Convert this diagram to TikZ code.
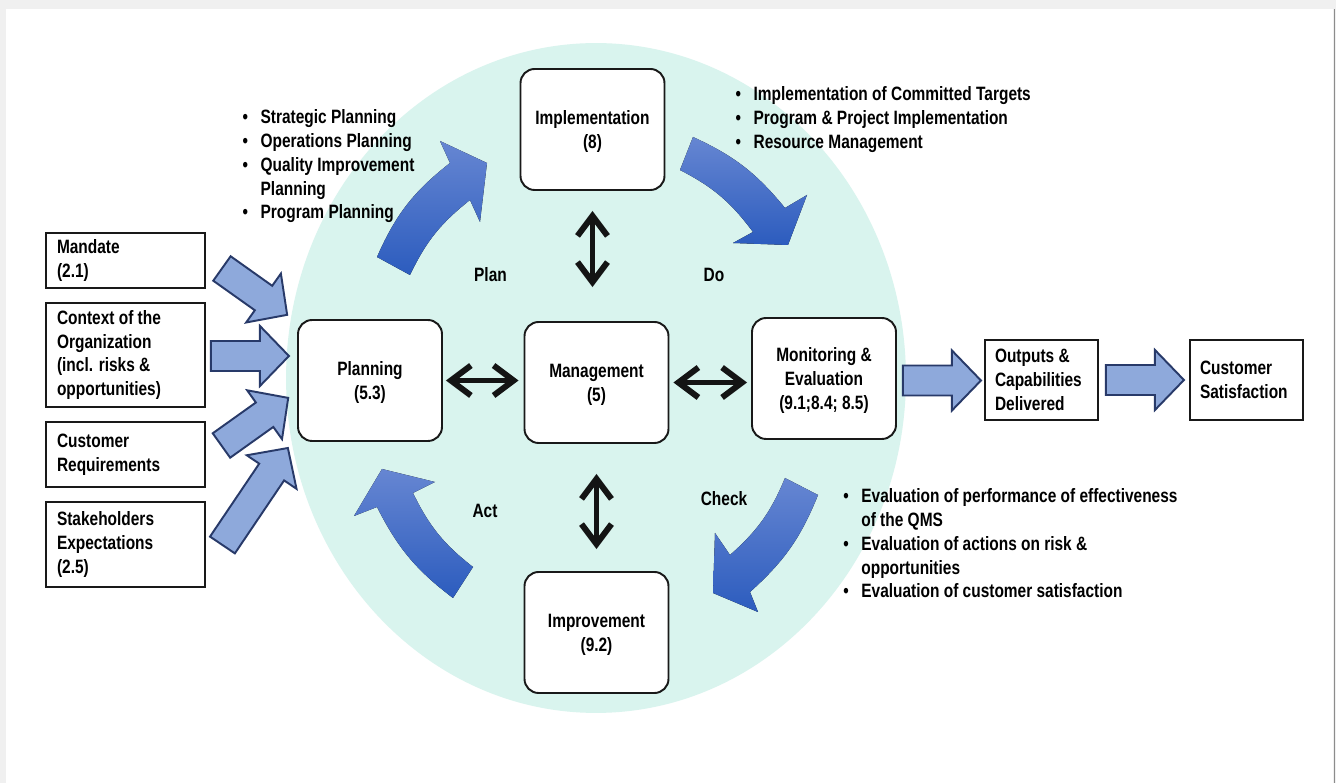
\documentclass[tikz,border=0pt]{standalone}
\usepackage{fontspec}
\setmainfont{Liberation Sans}[FakeStretch=0.80]
\usepackage{tikz}
\usepackage{xcolor}
\usetikzlibrary{arrows.meta,calc}

\definecolor{cyclebg}{RGB}{217,244,238}
\definecolor{arrowtop}{RGB}{102,134,210}
\definecolor{arrowbot}{RGB}{44,92,190}
\definecolor{feedfill}{RGB}{142,169,219}
\definecolor{feedline}{RGB}{40,58,105}
\definecolor{pagegray}{RGB}{240,240,240}

\newcommand{\lbl}{\fontsize{11}{13.6}\selectfont\bfseries}
\newcommand{\bul}{\makebox[0.36cm][l]{\textbullet}}
% block arrow: tail point, angle, length
\newcommand{\feedarrow}[3]{%
  \draw[feed, shift={(#1)}, rotate=#2] (0,-15) -- (#3-29,-15) -- (#3-29,-30) -- (#3,0) -- (#3-29,30) -- (#3-29,15) -- (0,15) -- cycle;}

\begin{document}
\begin{tikzpicture}[x=0.02cm, y=-0.02cm,
    stage/.style={rectangle, draw=black!90, line width=1.1pt, rounded corners=8pt, fill=white, minimum width=2.88cm, minimum height=2.42cm, align=center, text depth=0pt, font=\lbl},
    inbox/.style={rectangle, draw=black!90, line width=1.1pt, fill=white, text width=2.74cm, inner xsep=0.22cm, inner ysep=0pt, align=flush left, font=\lbl},
    note/.style={anchor=north west, inner sep=0pt, align=left, font=\lbl},
    phase/.style={font=\lbl},
    cyc/.style={top color=arrowtop, bottom color=arrowbot},
    feed/.style={fill=feedfill, draw=feedline, line width=1.1pt, line join=miter},
    link/.style={{Straight Barb[length=0.4cm,width=0.6cm]}-{Straight Barb[length=0.4cm,width=0.6cm]}, line width=3.4pt, draw=black!92}
]
\useasboundingbox (0,0) rectangle (1336,783);
\fill[pagegray] (0,0) rectangle (1336,783);
\fill[white] (6,9) rectangle (1333,783);
\draw[black!45, line width=1pt] (1334.5,9) -- (1334.5,783);

% PDCA circle
\fill[cyclebg] (596,378) ellipse [x radius=6.2cm, y radius=6.7cm];

% curved cycle arrows
\fill[cyc] (377,257) to[bend left=14] (450,163) -- (440,141) -- (487,163) -- (480,222) -- (470,200) to[bend right=13] (410,275) -- cycle;
\fill[cyc] (680,170) -- (693,137) to[bend left=13] (785,208) -- (807,195) -- (788,245) -- (733,243) -- (753,232) to[bend right=13] (680,170) -- cycle;
\fill[cyc] (785,478) -- (818,495) to[bend left=13] (750,592) -- (758,612) -- (713,593) -- (715,533) -- (730,555) to[bend right=13] (785,478) -- cycle;
\fill[cyc] (453,598) -- (473,567) to[bend left=13] (413,493) -- (435,482) -- (382,469) -- (354,516) -- (377,507) to[bend right=13] (453,598) -- cycle;

% stages
\node[stage] (impl) at (592.5,129.5) {Implementation\\(8)};
\node[stage] (plan) at (370,380.5) {Planning\\(5.3)};
\node[stage] (mgmt) at (596.5,382.5) {Management\\(5)};
\node[stage] (mon) at (824,378.5) {Monitoring \&\\Evaluation\\(9.1;8.4; 8.5)};
\node[stage] (impr) at (596.5,632.5) {Improvement\\(9.2)};

% inputs and outputs
\node[inbox, minimum height=1.1cm] (mandate) at (125.5,260.5) {Mandate\\(2.1)};
\node[inbox, minimum height=2.08cm] (context) at (125.5,355) {Context of the\\Organization\\(incl. risks \&\\opportunities)};
\node[inbox, minimum height=1.3cm] (custreq) at (125.5,454.5) {Customer\\Requirements};
\node[inbox, minimum height=1.7cm] (stake) at (125.5,544.5) {Stakeholders\\Expectations\\(2.5)};
\node[inbox, text width=1.86cm, inner xsep=0.2cm, minimum height=1.6cm] (outputs) at (1041.5,380) {Outputs \&\\Capabilities\\Delivered};
\node[inbox, text width=1.86cm, inner xsep=0.2cm, minimum height=1.6cm] (custsat) at (1246.5,380) {Customer\\Satisfaction};

% phase labels
\node[phase] (plantxt) at (490.5,274.5) {Plan};
\node[phase] (dotxt) at (714,274.5) {Do};
\node[phase] (acttxt) at (485,511) {Act};
\node[phase] (checktxt) at (724,499) {Check};

% bullet notes
\node[note] (plannote) at (242.3,109) {\bul Strategic Planning\\\bul Operations Planning\\\bul Quality Improvement\\\hspace*{0.36cm}Planning\\\bul Program Planning};
\node[note] (donote) at (735.3,86.5) {\bul Implementation of Committed Targets\\\bul Program \& Project Implementation\\\bul Resource Management};
\node[note] (checknote) at (843,488) {\bul Evaluation of performance of effectiveness\\\hspace*{0.36cm}of the QMS\\\bul Evaluation of actions on risk \&\\\hspace*{0.36cm}opportunities\\\bul Evaluation of customer satisfaction};

% links to management
\draw[link, shorten <=0.4cm, shorten >=0.68cm] (impl.south) -- (impl.south |- mgmt.north);
\draw[link, shorten <=0.06cm, shorten >=0.1cm] (plan.east) -- (plan.east -| mgmt.west);
\draw[link, shorten <=0.08cm, shorten >=0.08cm] (mgmt.east) -- (mgmt.east -| mon.west);
\draw[link, shorten <=0.6cm, shorten >=0.44cm] (mgmt.south) -- (mgmt.south |- impr.north);

% block arrows
\feedarrow{$(mandate.east)+(16,8)$}{-35.4}{80}
\feedarrow{$(context.east)+(5,1)$}{0}{78}
\feedarrow{$(custreq.east)+(15.5,-9)$}{35.5}{82}
\feedarrow{$(stake.east)+(16.5,0.5)$}{56}{117}
\feedarrow{$(mon.east)+(6,2)$}{0}{78}
\feedarrow{$(outputs.east)+(7,0)$}{0}{78}
\end{tikzpicture}
\end{document}
